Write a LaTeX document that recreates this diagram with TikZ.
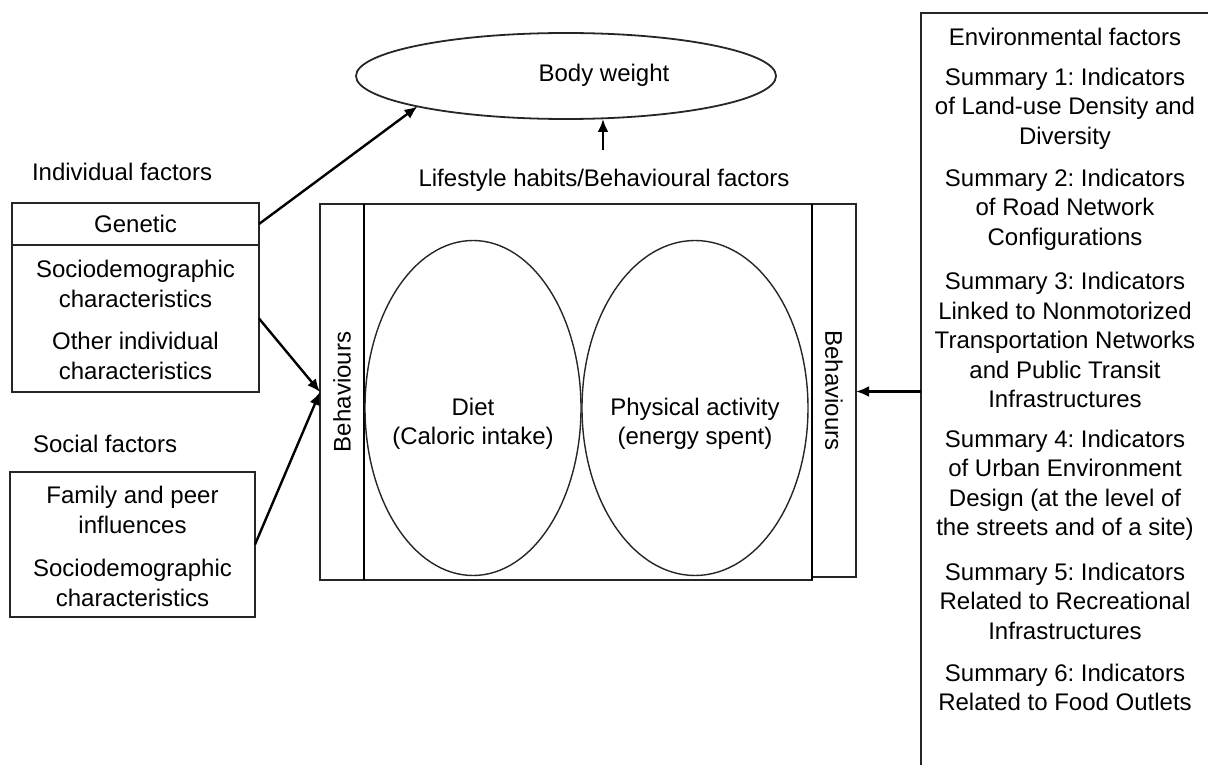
\documentclass[tikz,border=0pt]{standalone}
\usepackage{fontspec}
\setmainfont{Liberation Sans}
\usetikzlibrary{arrows.meta,shapes.geometric}
\frenchspacing
\begin{document}
\begin{tikzpicture}[x=1pt,y=-1pt,
  every node/.style={font=\fontsize{24}{29.5}\selectfont, inner sep=0pt, outer sep=0pt},
  txt/.style={align=center},
  box/.style={draw=black!85, line width=1.3pt, rectangle},
  oval/.style={draw=black!85, line width=1.4pt, ellipse},
  arr/.style={line width=2.4pt, -{Latex[length=13pt,width=11pt]}},
  heavy/.style={line width=2.6pt}]
\useasboundingbox (0,0) rectangle (1208,765);
\clip (0,0) rectangle (1208,765);

% top ellipse
\node[oval, line width=1.8pt, minimum width=420pt, minimum height=86pt] (bw) at (566,76) {};
\node (bwt) at (604,75) {Body weight};
\node (life) at (604,180) {Lifestyle habits/Behavioural factors};
\coordinate (upc) at (603,150);

% left side
\node[anchor=west] (indl) at (32,172) {Individual factors};
\node[box, minimum width=247pt, minimum height=42pt] (gen) at (135.5,224) {Genetic};
\node[box, minimum width=247pt, minimum height=147pt] (sd) at (135.5,318.5) {};
\node[txt] (sd1) at (135.5,284) {Sociodemographic\\characteristics};
\node[txt] (sd2) at (135.5,356) {Other individual\\characteristics};

\node[anchor=west] (socl) at (33,444) {Social factors};
\node[box, minimum width=245pt, minimum height=145pt] (soc) at (132.5,544.5) {};
\node[txt] (soc1) at (132.5,510) {Family and peer\\influences};
\node[txt] (soc2) at (132.5,583) {Sociodemographic\\characteristics};

% central block
\node[box, minimum width=492pt, minimum height=376pt] (main) at (566,392) {};
\node[box, minimum width=44pt, minimum height=376pt] (lb) at (342,392) {};
\node[box, minimum width=44pt, minimum height=373pt] (rb) at (834,390.5) {};
\draw[heavy] (lb.north east) -- (lb.south east);
\draw[heavy] (main.north east) -- (main.south east);
\node[rotate=90] (lbt) at (lb) {Behaviours};
\node[rotate=-90] (rbt) at (rb) {Behaviours};

\node[oval, minimum width=216pt, minimum height=335pt] (diet) at (473,408) {};
\node[oval, minimum width=226pt, minimum height=335pt] (pa) at (695,408) {};
\node[txt] (dt) at (473,424) {Diet\\(Caloric intake)};
\node[txt] (pt) at (695,424) {Physical activity\\(energy spent)};

% environment column
\node[box, minimum width=288pt, minimum height=757pt] (env) at (1065,391.5) {};
\node[txt] (e0) at (1065,37) {Environmental factors};
\node[txt] (e1) at (1065,108.5) {Summary 1: Indicators\\of Land-use Density and\\Diversity};
\node[txt] (e2) at (1065,209.5) {Summary 2: Indicators\\of Road Network\\Configurations};
\node[txt] (e3) at (1065,340) {Summary 3: Indicators\\Linked to Nonmotorized\\Transportation Networks\\and Public Transit\\Infrastructures};
\node[txt] (e4) at (1065,485.25) {Summary 4: Indicators\\of Urban Environment\\Design (at the level of\\the streets and of a site)};
\node[txt] (e5) at (1065,601) {Summary 5: Indicators\\Related to Recreational\\Infrastructures};
\node[txt] (e6) at (1065,687.25) {Summary 6: Indicators\\Related to Food Outlets};

% connectors
\draw[arr] (upc) -- (upc |- bw.south);
\draw[arr] (gen.east) -- (bw.south west);
\draw[arr] (sd.east) -- (lb.west);
\draw[arr] (soc.east) -- (lb.west);
\draw[arr] (env.west) -- (env.west -| rb.east);
\end{tikzpicture}
\end{document}
